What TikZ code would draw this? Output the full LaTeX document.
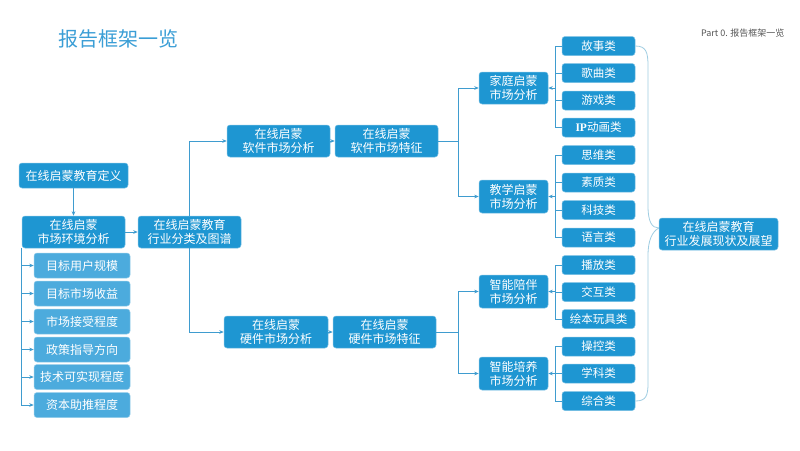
\documentclass[tikz,border=0pt]{standalone}
\usepackage{fontspec}
\setmainfont{Noto Sans CJK SC}
\newfontfamily\lserif{Liberation Serif}
\usetikzlibrary{arrows.meta,calc}
\definecolor{mainblue}{HTML}{1E96D2}
\definecolor{lightblue}{HTML}{4CABDD}
\definecolor{linec}{HTML}{3F9CCF}
\definecolor{bracec}{HTML}{9FCDE2}
\definecolor{titlec}{HTML}{3A9ED6}
\definecolor{grayt}{HTML}{555555}
\tikzset{
  bx/.style={rectangle, rounded corners=3pt, fill=mainblue, draw=mainblue!60!white, line width=0.5pt,
    text=white, align=center, inner sep=0pt, font=\fontsize{12}{14}\selectfont},
  lbx/.style={bx, fill=lightblue, draw=lightblue!60!white, minimum width=96pt, minimum height=25pt},
  itbx/.style={bx, minimum width=73pt, minimum height=19pt, font=\fontsize{11.5}{13}\selectfont},
  cn/.style={draw=linec, line width=0.7pt},
  arr/.style={cn, -{Stealth[length=4.5pt,width=3.6pt]}},
  brc/.style={draw=bracec, line width=0.8pt}
}
\begin{document}
\begin{tikzpicture}[x=1pt,y=-1pt]
\useasboundingbox (0,0) rectangle (800,450);
\fill[white] (0,0) rectangle (800,450);

\node[anchor=west, text=titlec, font=\fontsize{20}{23}\selectfont] (title) at (55,39) {报告框架一览};
\node[anchor=east, text=grayt, font=\fontsize{9}{10}\selectfont] (part) at (788,33) {Part 0. 报告框架一览};

% left part
\node[bx, minimum width=109pt, minimum height=25pt] (def) at (73.5,175.5) {在线启蒙教育定义};
\node[bx, minimum width=103pt, minimum height=32pt] (env) at (73.5,232) {在线启蒙\\市场环境分析};
\node[bx, minimum width=103pt, minimum height=32pt] (cls) at (189.5,232) {在线启蒙教育\\行业分类及图谱};

\node[lbx] (L1) at (82,265.5) {目标用户规模};
\node[lbx] (L2) at (82,293.5) {目标市场收益};
\node[lbx] (L3) at (82,321.5) {市场接受程度};
\node[lbx] (L4) at (82,349.5) {政策指导方向};
\node[lbx] (L5) at (82,377) {技术可实现程度};
\node[lbx] (L6) at (82,405) {资本助推程度};

% middle
\node[bx, minimum width=103pt, minimum height=32pt] (swA) at (278.5,141) {在线启蒙\\软件市场分析};
\node[bx, minimum width=103pt, minimum height=32pt] (swB) at (386.5,141) {在线启蒙\\软件市场特征};
\node[bx, minimum width=104pt, minimum height=32pt] (hwA) at (276,332) {在线启蒙\\硬件市场分析};
\node[bx, minimum width=103pt, minimum height=32pt] (hwB) at (384.5,332) {在线启蒙\\硬件市场特征};

\node[bx, minimum width=69pt, minimum height=32pt] (home) at (513.5,88) {家庭启蒙\\市场分析};
\node[bx, minimum width=69pt, minimum height=33pt] (teach) at (513.5,196.5) {教学启蒙\\市场分析};
\node[bx, minimum width=69pt, minimum height=33pt] (comp) at (513.5,291.5) {智能陪伴\\市场分析};
\node[bx, minimum width=69pt, minimum height=33pt] (train) at (513.5,373.5) {智能培养\\市场分析};

% right items
\node[itbx] (R1) at (598.5,46) {故事类};
\node[itbx] (R2) at (598.5,73) {歌曲类};
\node[itbx] (R3) at (598.5,100.5) {游戏类};
\node[itbx] (R4) at (598.5,127.5) {{\lserif\bfseries IP}动画类};
\node[itbx] (R5) at (598.5,155) {思维类};
\node[itbx] (R6) at (598.5,182.5) {素质类};
\node[itbx] (R7) at (598.5,210) {科技类};
\node[itbx] (R8) at (598.5,237.5) {语言类};
\node[itbx] (R9) at (598.5,265) {播放类};
\node[itbx] (R10) at (598.5,292) {交互类};
\node[itbx] (R11) at (598.5,319) {绘本玩具类};
\node[itbx] (R12) at (598.5,346.5) {操控类};
\node[itbx] (R13) at (598.5,373.5) {学科类};
\node[itbx] (R14) at (598.5,401) {综合类};

\node[bx, minimum width=119pt, minimum height=32pt] (big) at (718.5,234) {在线启蒙教育\\行业发展现状及展望};

% connectors left
\draw[arr] (def) -- (env);
\draw[arr] (env) -- (cls);
\foreach \i in {1,...,6} \draw[arr] (env.south west) |- (L\i);

% middle connectors
\draw[arr] (cls.north) |- (swA);
\draw[arr] (cls.south) |- (hwA);
\draw[arr] (swA) -- (swB);
\draw[arr] (hwA) -- (hwB);
\coordinate (j1) at (458,141);
\coordinate (j2) at (458,332);
\draw[cn] (swB) -- (j1);
\draw[arr] (j1) |- (home);
\draw[arr] (j1) |- (teach);
\draw[cn] (hwB) -- (j2);
\draw[arr] (j2) |- (comp);
\draw[arr] (j2) |- (train);

% right groups
\coordinate (b1) at ($(home.east)+(7,0)$);
\coordinate (b2) at ($(teach.east)+(7,0)$);
\coordinate (b3) at ($(comp.east)+(7,0)$);
\coordinate (b4) at ($(train.east)+(7,0)$);
\foreach \i in {1,...,4} \draw[cn] (R\i.west) -- (R\i.west -| b1);
\foreach \i in {5,...,8} \draw[cn] (R\i.west) -- (R\i.west -| b2);
\foreach \i in {9,...,11} \draw[cn] (R\i.west) -- (R\i.west -| b3);
\foreach \i in {12,...,14} \draw[cn] (R\i.west) -- (R\i.west -| b4);
\draw[cn] (R1.west -| b1) -- (R4.west -| b1);
\draw[cn] (R5.west -| b2) -- (R8.west -| b2);
\draw[cn] (R9.west -| b3) -- (R11.west -| b3);
\draw[cn] (R12.west -| b4) -- (R14.west -| b4);
\draw[arr] (b1) -- (home);
\draw[arr] (b2) -- (teach);
\draw[arr] (b3) -- (comp);
\draw[arr] (b4) -- (train);

% brace
\coordinate (tip) at ($(big.west)+(0,-6)$);
\draw[brc] (R1.east) .. controls (646,46) and (648,52) .. (648,66) -- (648,206)
  .. controls (648,222) and (652,228) .. (tip);
\draw[brc] (tip) .. controls (652,232) and (648,240) .. (648,256) -- (648,383)
  .. controls (648,396) and (646,401) .. (R14.east);
\end{tikzpicture}
\end{document}
